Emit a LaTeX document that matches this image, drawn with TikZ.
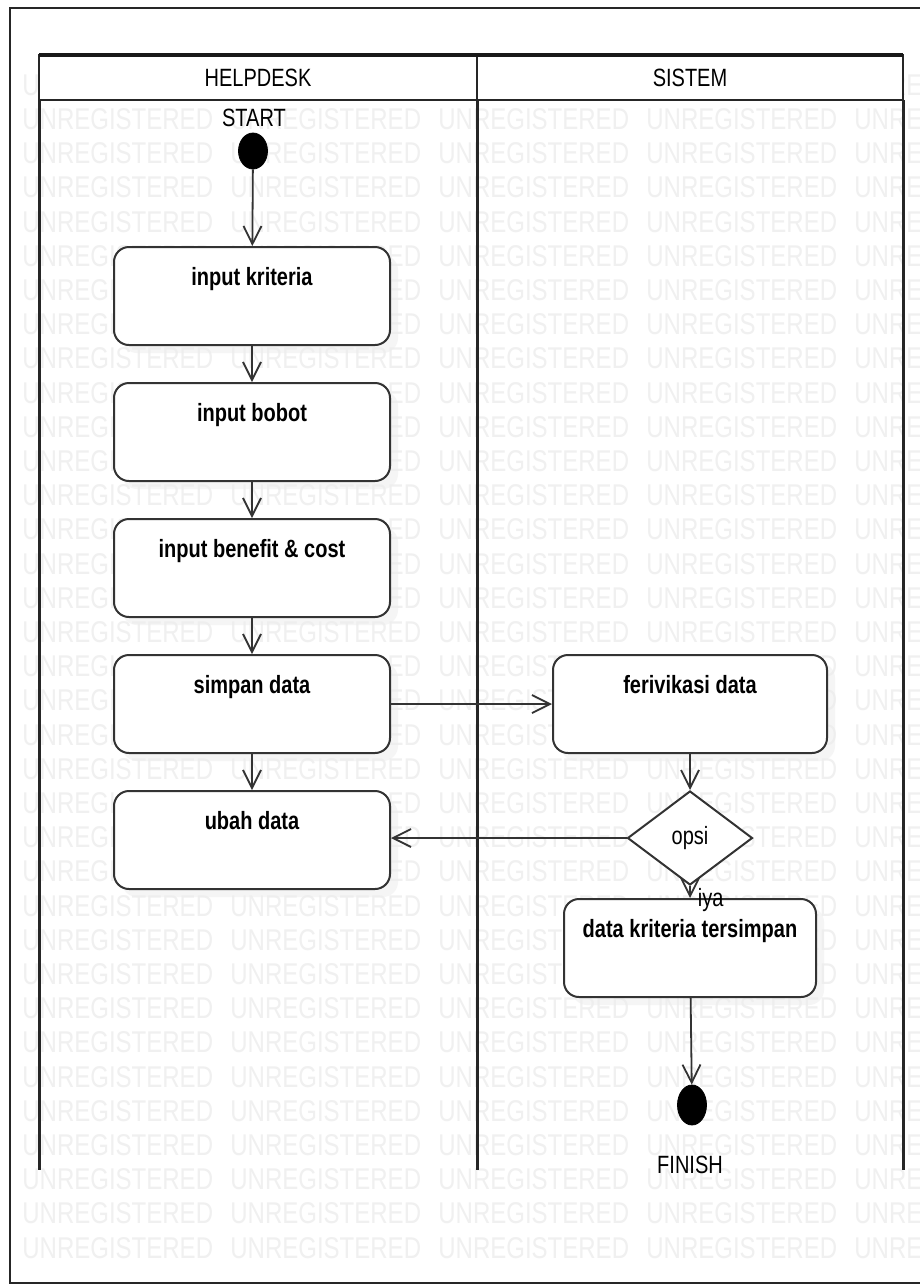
\documentclass[tikz,border=0pt]{standalone}
\usepackage{fontspec}
\setmainfont{Liberation Sans}[FakeStretch=0.8]
\newfontfamily\wmfont{Liberation Sans}[FakeStretch=0.8]
\usetikzlibrary{arrows.meta,shapes.geometric,shadows}
\begin{document}
\begin{tikzpicture}[x=0.5pt,y=-0.5pt,
  wm/.style={text=black!6, font=\wmfont\fontsize{15}{16}\selectfont, inner sep=0pt, anchor=west},
  lanehead/.style={draw=black!85, line width=1.3pt, fill=white, minimum height=22.5pt, inner sep=0pt, outer sep=0pt, font=\fontsize{12.5}{14}\selectfont},
  laneline/.style={draw=black!85, line width=1.5pt},
  act/.style={draw=black!80, line width=1pt, fill=white, rounded corners=7.5pt, minimum width=138pt, inner xsep=4pt, inner ysep=0pt, text height=19pt, text depth=30pt, font=\fontsize{12.5}{14}\selectfont\bfseries, drop shadow={shadow xshift=4pt, shadow yshift=-4pt, fill=black!7}},
  dec/.style={diamond, draw=black!80, line width=1pt, fill=white, minimum width=62.5pt, minimum height=47pt, inner sep=0pt, font=\fontsize{12.5}{14}\selectfont},
  dot/.style={ellipse, fill=black, draw=black, minimum width=14.5pt, minimum height=18pt, inner sep=0pt},
  lbl/.style={font=\fontsize{12.5}{14}\selectfont, inner sep=1pt},
  arr/.style={draw=black!80, line width=0.9pt, -{Straight Barb[length=9pt, width=9pt, line width=0.9pt]}}
]
\useasboundingbox (0,0) rectangle (920,1286);
\fill[white] (0,0) rectangle (920,1286);
% watermark
\foreach \r in {0,...,34}{
  \foreach \c in {0,...,4}{
    \node[wm] (wm-\r-\c) at ({22+208*\c},{85+34.2*\r}) {UNREGISTERED};
  }
}
% outer frame
\draw[black!85, line width=0.8pt] (10,8) rectangle (940,1283);
% lanes
\node[lanehead, minimum width=219pt] (hd1) at (258,77.5) {HELPDESK};
\node[lanehead, minimum width=213pt] (hd2) at (690,77.5) {SISTEM};
\draw[black!90, line width=2.2pt] (hd1.north west) -- (hd2.north east);
\coordinate (end1) at (39,1170);
\coordinate (end2) at (477,1170);
\coordinate (end3) at (903,1170);
\draw[laneline] (hd1.south west) -- (end1);
\draw[laneline] (hd1.south east) -- (end2);
\draw[laneline] (hd2.south east) -- (end3);
% helpdesk lane
\node[lbl] (starttxt) at (254,118) {START};
\node[dot] (start) at (253,151) {};
\node[act] (a1) at (252,296) {input kriteria};
\node[act] (a2) at (252,432) {input bobot};
\node[act] (a3) at (252,568) {input benefit \& cost};
\node[act] (a4) at (252,704) {simpan data};
\node[act] (a5) at (252,840) {ubah data};
% sistem lane
\node[act, minimum width=137pt] (b1) at (690,704) {ferivikasi data};
\node[dec] (d) at (690,838) {opsi};
\node[act, minimum width=126pt] (b2) at (690,948) {data kriteria tersimpan};
\node[dot, minimum height=20pt] (fin) at (692,1105) {};
\node[lbl] (fintxt) at (690,1165) {FINISH};
% flows
\draw[arr] (start) -- (a1);
\draw[arr] (a1) -- (a2);
\draw[arr] (a2) -- (a3);
\draw[arr] (a3) -- (a4);
\draw[arr] (a4) -- (a5);
\draw[arr] (a4) -- (b1);
\draw[arr] (b1) -- (d);
\draw[arr] (d.west) -- (a5.east |- d.west);
\draw[arr] (d) -- node[lbl, anchor=north west, pos=0, inner sep=0.5pt, xshift=3pt] (iya) {iya} (b2);
\draw[arr] (b2) -- (fin);
\end{tikzpicture}
\end{document}
